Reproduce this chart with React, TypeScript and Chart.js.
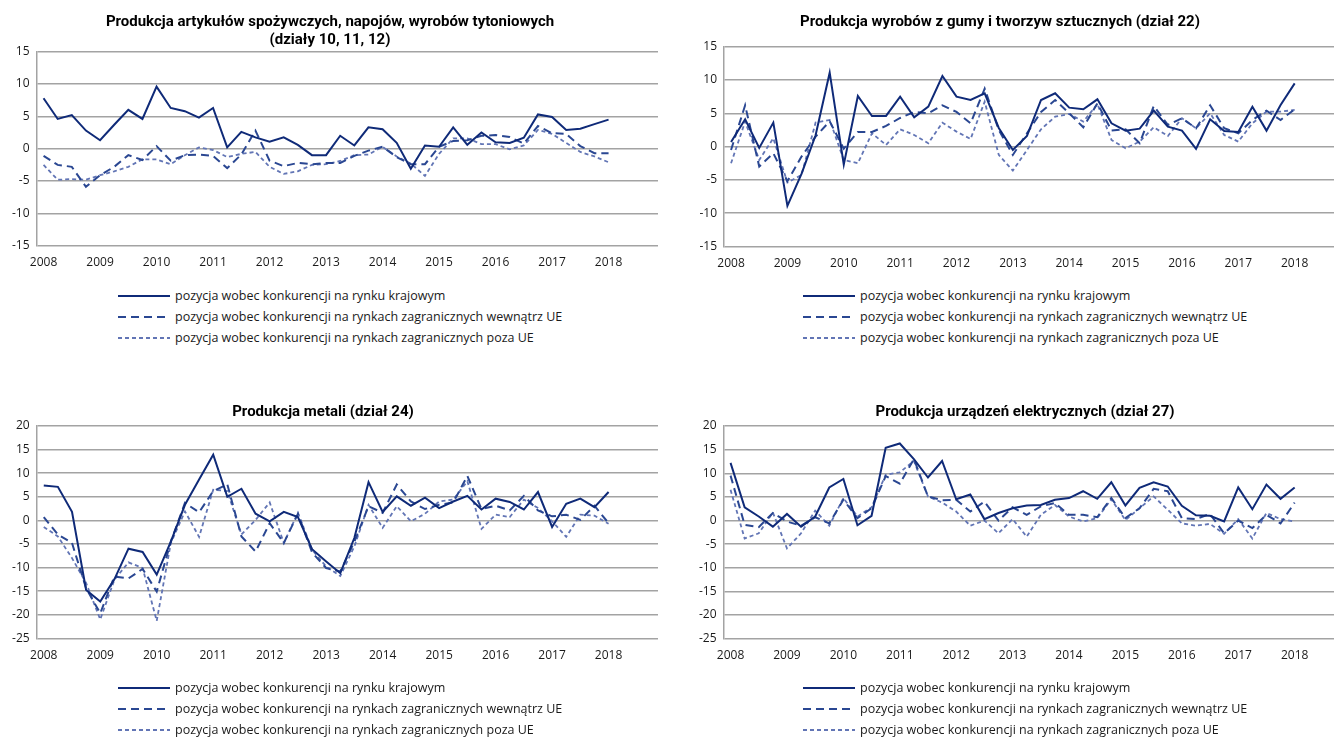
import React, { useEffect, useRef } from 'react';
import { Chart, registerables } from 'chart.js';

Chart.register(...registerables);

// ---------- DATA ----------
const years = ['2008', '2009', '2010', '2011', '2012', '2013', '2014', '2015', '2016', '2017', '2018'];
const quarterNames = ['I', 'II', 'III', 'IV'];
// 44 quarterly categories (2008 Q1 – 2018 Q4); data available up to 2018 Q1
const categories = years.flatMap((y) => quarterNames.map((q) => `${q} ${y}`));

const seriesNames = [
  'pozycja wobec konkurencji na rynku krajowym',
  'pozycja wobec konkurencji na rynkach zagranicznych wewnątrz UE',
  'pozycja wobec konkurencji na rynkach zagranicznych poza UE',
];

// Produkcja artykułów spożywczych, napojów, wyrobów tytoniowych
const foodDomestic = [7.8, 4.6, 5.2, 2.8, 1.3, 3.7, 6.0, 4.6, 9.6, 6.3, 5.8, 4.8, 6.3, 0.2, 2.6, 1.75, 1.1, 1.75, 0.6, -1.0, -1.0, 2.0, 0.5, 3.3, 3.0, 0.9, -3.1, 0.5, 0.3, 3.3, 0.6, 2.5, 1.0, 0.9, 1.7, 5.3, 4.9, 2.9, 3.1, 3.8, 4.5];
const foodEU = [-1.1, -2.5, -2.8, -5.9, -4.1, -2.8, -1.0, -1.75, 0.4, -1.85, -1.0, -0.9, -1.1, -3.0, -0.9, 2.8, -1.85, -2.7, -2.2, -2.4, -2.2, -2.2, -1.1, -0.3, 0.3, -1.3, -2.4, -2.4, 0.3, 1.2, 1.3, 2.0, 2.1, 1.8, 0.8, 3.5, 2.4, 2.3, 0.4, -0.7, -0.7];
const foodNonEU = [-2.5, -4.8, -4.7, -4.8, -4.1, -3.5, -2.8, -1.65, -1.65, -2.4, -1.0, 0.2, -0.2, -1.3, -0.8, -0.5, -2.8, -3.9, -3.5, -2.5, -2.4, -1.9, -1.0, -0.9, 0.3, -1.2, -2.3, -4.2, -0.8, 1.6, 1.6, 0.7, 0.7, -0.1, 0.5, 2.9, 2.3, 0.9, -0.5, -1.2, -2.1];

// Produkcja wyrobów z gumy i tworzyw sztucznych (dział 22)
const rubberDomestic = [0.7, 4.1, -0.2, 3.6, -8.9, -4.1, 1.7, 11.1, -2.7, 7.6, 4.6, 4.6, 7.5, 4.4, 6.0, 10.6, 7.5, 7.0, 8.0, 2.8, -0.5, 1.6, 7.0, 8.0, 5.85, 5.6, 7.1, 3.5, 2.4, 2.7, 5.4, 3.0, 2.4, -0.35, 4.1, 2.35, 2.2, 6.0, 2.4, 6.25, 9.5];
const rubberEU = [-0.5, 6.2, -3.0, -1.0, -5.2, -1.5, 1.5, 3.8, -0.3, 2.2, 2.2, 3.1, 4.3, 5.2, 5.0, 6.2, 5.2, 3.5, 8.7, 2.5, -1.25, 2.0, 5.2, 7.0, 5.0, 2.9, 6.5, 2.4, 2.6, 0.5, 6.1, 3.25, 4.25, 2.75, 6.2, 2.75, 2.0, 4.0, 5.4, 4.0, 5.6];
const rubberNonEU = [-2.5, 3.75, -2.0, 1.25, -5.4, -4.25, 3.6, 4.0, -2.0, -2.5, 2.0, 0.25, 2.6, 1.75, 0.5, 3.6, 2.25, 1.15, 6.75, -1.25, -3.6, -0.5, 2.6, 4.5, 4.9, 3.75, 6.4, 1.0, -0.25, 0.75, 2.9, 1.6, 4.25, 2.75, 5.0, 1.75, 0.75, 3.5, 5.25, 5.25, 5.5];

// Produkcja metali (dział 24)
const metalsDomestic = [7.4, 7.1, 1.8, -14.75, -17.2, -12.5, -6.0, -6.7, -11.5, -4.5, 3.3, 8.65, 13.9, 5.0, 6.7, 1.4, -0.2, 1.8, 0.7, -6.1, -8.7, -11.2, -3.7, 8.1, 1.8, 5.1, 3.1, 4.8, 2.6, 4.0, 5.2, 2.3, 4.6, 3.9, 2.3, 6.0, -1.4, 3.5, 4.6, 2.8, 6.0];
const metalsEU = [0.7, -3.0, -4.8, -14.4, -19.7, -11.9, -12.3, -10.3, -15.1, -4.5, 3.7, 1.7, 6.2, 7.6, -3.4, -6.6, -0.6, -4.8, 1.4, -6.8, -10.1, -10.85, -4.5, 3.0, 1.6, 7.6, 4.0, 2.4, 3.3, 3.8, 9.4, 2.4, 3.1, 2.1, 5.2, 2.1, 0.85, 1.2, 0.1, 3.1, -0.6];
const metalsNonEU = [-1.4, -3.4, -8.0, -13.3, -21.0, -12.6, -8.9, -10.1, -21.3, -4.8, 1.9, -3.5, 6.5, 6.2, -3.0, 0.1, 3.8, -4.8, 1.6, -6.2, -9.8, -11.8, -5.5, 3.3, -1.6, 3.0, -0.2, 1.4, 4.0, 4.4, 8.3, -1.8, 1.2, 0.7, 4.4, 2.6, -0.2, -3.5, 1.2, 1.0, -0.7];

// Produkcja urządzeń elektrycznych (dział 27)
const electricDomestic = [12.2, 2.8, 0.85, -1.3, 1.4, -1.3, 0.85, 7.0, 8.8, -1.0, 1.0, 15.4, 16.3, 13.0, 9.1, 12.6, 4.5, 5.5, 0.3, 1.6, 2.6, 3.2, 3.3, 4.4, 4.75, 6.2, 4.6, 8.1, 3.2, 6.9, 8.1, 7.2, 3.1, 1.1, 1.0, -0.2, 7.0, 2.4, 7.6, 4.6, 7.0];
const electricEU = [9.5, -0.9, -1.4, 1.6, -0.2, -1.1, 0.7, -0.6, 4.4, 0.5, 2.6, 9.4, 7.8, 13.0, 5.1, 4.3, 4.4, 1.9, 4.0, 0.0, 2.8, 1.2, 3.0, 3.7, 1.2, 1.2, 0.7, 4.75, 0.5, 2.6, 6.7, 6.2, 0.5, 0.3, 1.4, -2.7, 0.0, -1.6, 1.2, -0.6, 3.8];
const electricNonEU = [6.5, -3.8, -2.7, 1.7, -5.9, -2.7, 2.1, -1.1, 4.75, 0.85, 2.8, 9.7, 10.2, 12.6, 5.1, 3.8, 1.9, -1.1, 0.0, -2.7, 0.3, -3.4, 1.2, 3.3, 0.85, -0.2, 0.5, 4.5, 0.1, 2.6, 5.1, 2.3, -0.6, -1.1, -0.7, -2.8, 0.3, -3.8, 1.6, 0.3, -0.2];

const panelTitles = [
  ['Produkcja artykułów spożywczych, napojów, wyrobów tytoniowych', '(działy 10, 11, 12)'],
  ['Produkcja wyrobów z gumy i tworzyw sztucznych (dział 22)'],
  ['Produkcja metali (dział 24)'],
  ['Produkcja urządzeń elektrycznych (dział 27)'],
];
const panelSeries = [
  [foodDomestic, foodEU, foodNonEU],
  [rubberDomestic, rubberEU, rubberNonEU],
  [metalsDomestic, metalsEU, metalsNonEU],
  [electricDomestic, electricEU, electricNonEU],
];
const panelRanges = [
  [-15, 15],
  [-15, 15],
  [-25, 20],
  [-25, 20],
];

// ---------- STYLE / LAYOUT ----------
const seriesColors = ['#0f2a78', '#2a4792', '#6275b5'];
const seriesDash: number[][] = [[], [8, 5], [4, 3]];
const seriesWidth = [2, 2, 1.8];
const gridColor = '#a3a3a3';
const textColor = '#1a1a1a';
const tickFont = { family: '"Open Sans", "Noto Sans", sans-serif', size: 12 };

type Layout = {
  canvas: { left: number; top: number; width: number; height: number };
  plot: { left: number; top: number; right: number; bottom: number };
  titleX: number;
  titleTop: number;
  legendX: number;
  legendTop: number;
};

const layouts: Layout[] = [
  { canvas: { left: 0, top: 0, width: 667, height: 285 }, plot: { left: 36.5, top: 51.7, right: 658, bottom: 245.7 }, titleX: 330, titleTop: 12, legendX: 118, legendTop: 285 },
  { canvas: { left: 667, top: 0, width: 680, height: 285 }, plot: { left: 724, top: 46.7, right: 1344, bottom: 246.5 }, titleX: 1000, titleTop: 12, legendX: 803, legendTop: 285 },
  { canvas: { left: 0, top: 395, width: 667, height: 285 }, plot: { left: 36.7, top: 426, right: 658, bottom: 638.3 }, titleX: 323, titleTop: 402, legendX: 118, legendTop: 677 },
  { canvas: { left: 667, top: 395, width: 680, height: 285 }, plot: { left: 723.5, top: 426, right: 1344, bottom: 638.7 }, titleX: 1025, titleTop: 402, legendX: 803, legendTop: 677 },
];

function Panel({ index }: { index: number }) {
  const ref = useRef<HTMLCanvasElement | null>(null);
  const lay = layouts[index];

  useEffect(() => {
    if (!ref.current) return;
    const c = lay.canvas;
    const p = lay.plot;
    const [ymin, ymax] = panelRanges[index];
    const chart = new Chart(ref.current, {
      type: 'line',
      data: {
        labels: categories,
        datasets: panelSeries[index].map((values, i) => ({
          label: seriesNames[i],
          data: values,
          borderColor: seriesColors[i],
          backgroundColor: seriesColors[i],
          borderWidth: seriesWidth[i],
          borderDash: seriesDash[i],
          pointRadius: 0,
          tension: 0,
          fill: false,
        })),
      },
      options: {
        responsive: false,
        animation: false,
        events: [],
        layout: {
          padding: {
            top: p.top - c.top,
            right: c.left + c.width - p.right,
            left: 0,
            bottom: 0,
          },
        },
        plugins: {
          legend: { display: false },
          title: { display: false },
          tooltip: { enabled: false },
        },
        scales: {
          x: {
            type: 'category',
            offset: true,
            grid: { display: false, drawTicks: false },
            border: { display: false },
            ticks: {
              autoSkip: false,
              maxRotation: 0,
              minRotation: 0,
              padding: 10,
              color: textColor,
              font: tickFont,
              callback: (_v: any, i: number) => (i % 4 === 0 && i / 4 < years.length ? years[i / 4] : ''),
            },
            afterFit: (s: any) => {
              s.height = c.top + c.height - p.bottom;
            },
          },
          y: {
            min: ymin,
            max: ymax,
            ticks: { stepSize: 5, padding: 7, color: textColor, font: tickFont },
            grid: { color: gridColor, lineWidth: 1.5, drawTicks: false },
            border: { display: true, color: gridColor, width: 1.5 },
            afterFit: (s: any) => {
              s.width = p.left - c.left;
            },
          },
        },
      },
    });
    return () => chart.destroy();
  }, [index]);

  const c = lay.canvas;
  return (
    <>
      <canvas
        ref={ref}
        width={c.width}
        height={c.height}
        style={{ position: 'absolute', left: c.left, top: c.top, width: c.width, height: c.height }}
      />
      <div
        style={{
          position: 'absolute',
          left: lay.titleX - 300,
          width: 600,
          top: lay.titleTop,
          textAlign: 'center',
          fontFamily: 'Roboto, "Noto Sans", sans-serif',
          fontWeight: 700,
          fontSize: 15,
          lineHeight: '18px',
          color: '#000',
          whiteSpace: 'nowrap',
        }}
      >
        {panelTitles[index].map((t, k) => (
          <div key={k}>{t}</div>
        ))}
      </div>
      <div style={{ position: 'absolute', left: lay.legendX, top: lay.legendTop }}>
        {seriesNames.map((name, i) => (
          <div key={i} style={{ display: 'flex', alignItems: 'center', height: 21 }}>
            <svg width={52} height={10} style={{ display: 'block' }}>
              <line
                x1={0}
                y1={5}
                x2={52}
                y2={5}
                stroke={seriesColors[i]}
                strokeWidth={seriesWidth[i]}
                strokeDasharray={seriesDash[i].length ? seriesDash[i].join(' ') : undefined}
              />
            </svg>
            <span
              style={{
                marginLeft: 5,
                fontFamily: '"Open Sans", "Noto Sans", sans-serif',
                fontSize: 12.5,
                color: textColor,
                whiteSpace: 'nowrap',
              }}
            >
              {name}
            </span>
          </div>
        ))}
      </div>
    </>
  );
}

export default function App() {
  return (
    <div
      style={{
        position: 'absolute',
        left: 0,
        top: 0,
        width: 1334,
        height: 738,
        overflow: 'hidden',
        background: '#ffffff',
      }}
    >
      {[0, 1, 2, 3].map((i) => (
        <Panel key={i} index={i} />
      ))}
    </div>
  );
}
